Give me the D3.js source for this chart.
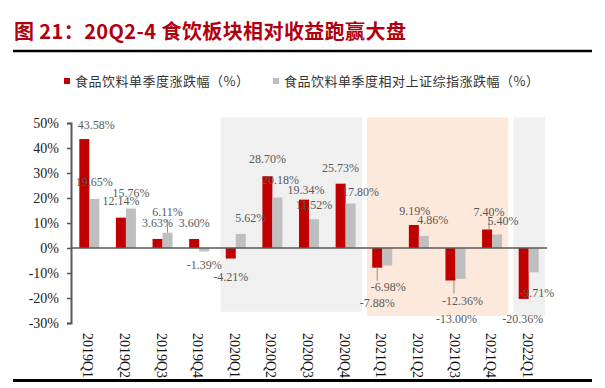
<!DOCTYPE html>
<html>
<head>
<meta charset="utf-8">
<script src="https://cdn.jsdelivr.net/npm/d3@7"></script>
<style>
  body { margin: 0; background: #fff; }
  svg { display: block; }
</style>
</head>
<body>
<svg id="chart" width="605" height="388"></svg>
<script>
var quarters = ["2019Q1", "2019Q2", "2019Q3", "2019Q4", "2020Q1", "2020Q2", "2020Q3",
                "2020Q4", "2021Q1", "2021Q2", "2021Q3", "2021Q4", "2022Q1"];
var sectorChange = [43.58, 12.14, 3.63, 3.60, -4.21, 28.70, 19.34, 25.73, -7.88, 9.19, -13.00, 7.40, -20.36];
var relativeChange = [19.65, 15.76, 6.11, -1.39, 5.62, 20.18, 11.52, 17.80, -6.98, 4.86, -12.36, 5.40, -9.71];
var yTicks = [50, 40, 30, 20, 10, 0, -10, -20, -30];
var seriesNames = ["食品饮料单季度涨跌幅（%）", "食品饮料单季度相对上证综指涨跌幅（%）"];
var titleText = "图 21：20Q2-4 食饮板块相对收益跑赢大盘";
// shaded periods (first..last quarter)
var periods = [["2020Q1", "2020Q4"], ["2021Q1", "2021Q4"], ["2022Q1", "2022Q1"]];

// label nudges [dx, dy] from the bar end, hand placed like the source
var redNudge = [[12, -14], [0, -17], [0, -16], [0, -16], [0, 18], [0, -17], [2, -10],
                [0, -16], [0, 35], [1, -14], [6, 38], [2, -18], [-1, 20]];
var grayNudge = [[0, -17], [0, -16], [0, -21], [0, 13], [10, -16], [3, -18], [0, -14],
                 [10, -12], [1, 21], [9, -16], [2, 22], [6, -14], [3, 21]];
var redLeader = [8, 10, 11];
var grayLeader = [2];

var svg = d3.select("#chart");
var red = "#c00000", gray = "#bfbfbf";

// title + rules
svg.append("text")
   .attr("x", 14).attr("y", 39)
   .attr("font-family", "Noto Sans CJK SC")
   .attr("font-weight", "bold")
   .attr("font-size", 20)
   .attr("letter-spacing", 0.4)
   .attr("fill", "#b0000e")
   .text(titleText);

svg.append("line").attr("x1", 13).attr("x2", 592).attr("y1", 51).attr("y2", 51)
   .attr("stroke", "#000").attr("stroke-width", 2.5);
svg.append("line").attr("x1", 13).attr("x2", 592).attr("y1", 380.5).attr("y2", 380.5)
   .attr("stroke", "#000").attr("stroke-width", 3);

// legend
var legend = svg.append("g").attr("font-family", "Noto Sans CJK SC").attr("font-size", 13)
   .attr("letter-spacing", 0.5).attr("fill", "#333");
[[64, red, 75], [273, gray, 284]].forEach(function (l, i) {
  legend.append("rect").attr("x", l[0]).attr("y", 78).attr("width", 6).attr("height", 6).attr("fill", l[1]);
  legend.append("text").attr("x", l[2]).attr("y", 86).text(seriesNames[i]);
});

var x = d3.scaleBand().domain(quarters).range([71, 547]);
var y = d3.scaleLinear().domain([-30, 50]).range([323, 123]);
var bw = 10;

// shaded periods
var shadeFill = ["#f0f0f0", "#fde9dc", "#f0f0f0"];
var shadeBottom = [-25.5, -27.2, -27.2];
svg.selectAll(".period").data(periods).enter().append("rect")
   .attr("class", "period")
   .attr("x", function (d) { return x(d[0]) + 3; })
   .attr("width", function (d) { return x(d[1]) + x.bandwidth() - x(d[0]) - 5; })
   .attr("y", y(52.2))
   .attr("height", function (d, i) { return y(shadeBottom[i]) - y(52.2); })
   .attr("fill", function (d, i) { return shadeFill[i]; });

// y axis
var yAxis = svg.append("g")
   .attr("transform", "translate(71,0)")
   .call(d3.axisLeft(y).tickValues(yTicks).tickSize(4).tickPadding(8)
           .tickFormat(function (d) { return d + "%"; }));
yAxis.select(".domain").attr("stroke", "#595959").attr("stroke-width", 2);
yAxis.selectAll(".tick line").attr("stroke", "#595959").attr("stroke-width", 1.5);
yAxis.selectAll("text").attr("font-family", "Liberation Serif").attr("font-size", 14).attr("fill", "#222");

// bars
svg.selectAll(".bar-red").data(sectorChange).enter().append("rect")
   .attr("class", "bar-red")
   .attr("x", function (d, i) { return x(quarters[i]) + x.bandwidth() / 2 - bw; })
   .attr("y", function (d) { return y(Math.max(0, d)); })
   .attr("width", bw)
   .attr("height", function (d) { return Math.abs(y(d) - y(0)); })
   .attr("fill", red);

svg.selectAll(".bar-gray").data(relativeChange).enter().append("rect")
   .attr("class", "bar-gray")
   .attr("x", function (d, i) { return x(quarters[i]) + x.bandwidth() / 2; })
   .attr("y", function (d) { return y(Math.max(0, d)); })
   .attr("width", bw)
   .attr("height", function (d) { return Math.abs(y(d) - y(0)); })
   .attr("fill", gray);

// zero line
svg.append("line").attr("x1", 71).attr("x2", 547).attr("y1", y(0)).attr("y2", y(0))
   .attr("stroke", "#595959").attr("stroke-width", 1.5);

// leader lines + value labels
function drawLabels(values, nudge, leaders, side) {
  var g = svg.append("g");
  values.forEach(function (v, i) {
    var cx = x(quarters[i]) + x.bandwidth() / 2 + side * bw / 2;
    var ly = y(v) + nudge[i][1];
    var lx = cx + nudge[i][0];
    if (leaders.indexOf(i) >= 0) {
      var dir = v < 0 ? 1 : -1;
      var lxLine = Math.max(cx - bw / 2 + 1.5, Math.min(cx + bw / 2 - 1.5, lx));
      g.append("line")
       .attr("x1", lxLine).attr("x2", lxLine)
       .attr("y1", y(v)).attr("y2", y(v) + dir * 13)
       .attr("stroke", "#8c8c8c").attr("stroke-width", 1);
    }
    g.append("text")
     .attr("x", lx).attr("y", ly)
     .attr("dy", "0.35em")
     .attr("text-anchor", "middle")
     .attr("font-family", "Liberation Serif")
     .attr("font-size", 12)
     .attr("fill", "#595959")
     .text(v.toFixed(2) + "%");
  });
}
drawLabels(sectorChange, redNudge, redLeader, -1);
drawLabels(relativeChange, grayNudge, grayLeader, 1);

// category labels, rotated
svg.selectAll(".cat").data(quarters).enter().append("text")
   .attr("class", "cat")
   .attr("transform", function (d) { return "translate(" + (x(d) + x.bandwidth() / 2 - 1) + ",333) rotate(90)"; })
   .attr("dy", "0.35em")
   .attr("font-family", "Liberation Serif")
   .attr("font-size", 14)
   .attr("fill", "#111")
   .text(function (d) { return d; });
</script>
</body>
</html>
